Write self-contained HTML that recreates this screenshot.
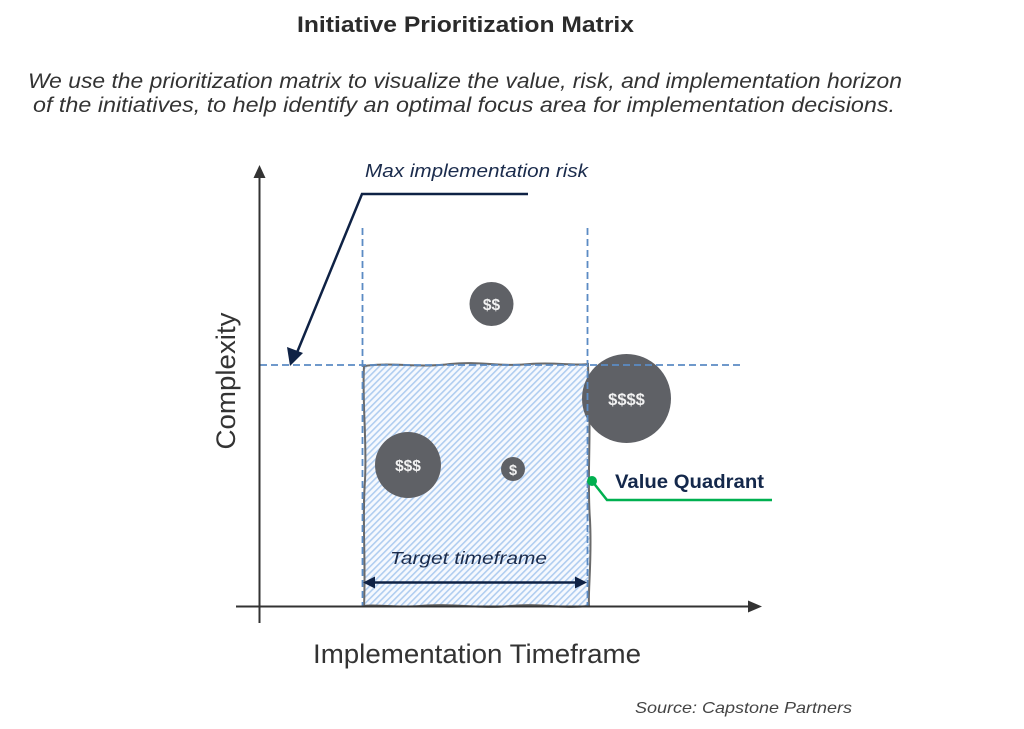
<!DOCTYPE html>
<html><head><meta charset="utf-8"><style>
html,body{margin:0;padding:0;background:#fff;}
svg{display:block;}
</style></head><body>
<svg width="1024" height="729" viewBox="0 0 1024 729" xmlns="http://www.w3.org/2000/svg">
<defs>
<pattern id="hatch" patternUnits="userSpaceOnUse" width="4.5" height="4.5" patternTransform="rotate(45)">
<rect width="4.5" height="4.5" fill="#f6f9fe"/>
<rect x="0" y="0" width="1.6" height="4.5" fill="#b0cdf0"/>
</pattern>
</defs>
<rect width="1024" height="729" fill="#fff"/>

<text x="465.5" y="32" font-family="Liberation Sans, sans-serif" font-weight="bold" font-size="22.5" fill="#2b2b2b" text-anchor="middle" textLength="337" lengthAdjust="spacingAndGlyphs">Initiative Prioritization Matrix</text>

<text x="28" y="88" font-family="Liberation Sans, sans-serif" font-style="italic" font-size="21.5" fill="#333" textLength="874" lengthAdjust="spacingAndGlyphs">We use the prioritization matrix to visualize the value, risk, and implementation horizon</text>
<text x="33" y="112" font-family="Liberation Sans, sans-serif" font-style="italic" font-size="21.5" fill="#333" textLength="862" lengthAdjust="spacingAndGlyphs">of the initiatives, to help identify an optimal focus area for implementation decisions.</text>

<!-- hatched box -->
<path d="M364,366 C390,362 420,368 450,364 C480,361 500,367 530,364 C555,362 575,366 588,364 L589,400 C591,440 587,480 590,520 C592,560 588,590 589,606 C560,609 540,603 510,606 C480,609 450,603 420,606 C395,608 375,604 364,606 C366,560 362,520 365,480 C367,440 362,400 364,366 Z" fill="url(#hatch)" stroke="#6a6a6a" stroke-width="2"/>

<!-- circles -->
<circle cx="491.5" cy="304" r="22" fill="#5f6166"/>
<circle cx="626.5" cy="398.5" r="44.5" fill="#5f6166"/>
<circle cx="408" cy="465" r="33" fill="#5f6166"/>
<circle cx="513" cy="469" r="12" fill="#5f6166"/>
<g font-family="Liberation Sans, sans-serif" font-weight="bold" fill="#f2f2f2" text-anchor="middle">
<text x="491.5" y="310" font-size="15.5">$$</text>
<text x="626.5" y="405" font-size="16.5">$$$$</text>
<text x="408" y="471" font-size="15.5">$$$</text>
<text x="513" y="475" font-size="14.5">$</text>
</g>

<!-- dashed lines -->
<g stroke="#5b8bc4" stroke-width="1.8" stroke-dasharray="7,4" fill="none">
<line x1="362.5" y1="228" x2="362.5" y2="606"/>
<line x1="587.5" y1="228" x2="587.5" y2="606"/>
<line x1="260" y1="365" x2="740" y2="365"/>
</g>

<!-- axes -->
<g stroke="#333" stroke-width="2" fill="none">
<line x1="259.5" y1="176" x2="259.5" y2="623"/>
<line x1="236" y1="606.5" x2="750" y2="606.5"/>
</g>
<polygon points="259.5,165 253.5,178 265.5,178" fill="#333"/>
<polygon points="762,606.5 748,600.5 748,612.5" fill="#333"/>

<!-- max risk leader -->
<polyline points="528,194 362,194 296,355" fill="none" stroke="#0f2245" stroke-width="2.5"/>
<polygon points="290,366 287,347 303,353" fill="#0f2245"/>
<text x="365" y="177" font-family="Liberation Sans, sans-serif" font-style="italic" font-size="18.5" fill="#1a2b4c" textLength="223" lengthAdjust="spacingAndGlyphs">Max implementation risk</text>

<!-- target timeframe -->
<text x="390" y="564" font-family="Liberation Sans, sans-serif" font-style="italic" font-size="17.5" fill="#1a2b4c" textLength="157" lengthAdjust="spacingAndGlyphs">Target timeframe</text>
<line x1="372" y1="582.5" x2="578" y2="582.5" stroke="#0f2245" stroke-width="2.5"/>
<polygon points="363,582.5 375,576.5 375,588.5" fill="#0f2245"/>
<polygon points="587,582.5 575,576.5 575,588.5" fill="#0f2245"/>

<!-- value quadrant -->
<polyline points="592,481 607,500 772,500" fill="none" stroke="#00b050" stroke-width="2.5"/>
<circle cx="592" cy="481" r="5" fill="#00b050"/>
<text x="615" y="488" font-family="Liberation Sans, sans-serif" font-weight="bold" font-size="19.5" fill="#14284b" textLength="149" lengthAdjust="spacingAndGlyphs">Value Quadrant</text>

<!-- axis labels -->
<text x="477" y="663" font-family="Liberation Sans, sans-serif" font-size="26.5" fill="#333" text-anchor="middle" textLength="328" lengthAdjust="spacingAndGlyphs">Implementation Timeframe</text>
<text transform="translate(235,381) rotate(-90)" font-family="Liberation Sans, sans-serif" font-size="26.5" fill="#333" text-anchor="middle" textLength="137" lengthAdjust="spacingAndGlyphs">Complexity</text>

<text x="635" y="713" font-family="Liberation Sans, sans-serif" font-style="italic" font-size="16" fill="#444" textLength="217" lengthAdjust="spacingAndGlyphs">Source: Capstone Partners</text>
</svg>
</body></html>
